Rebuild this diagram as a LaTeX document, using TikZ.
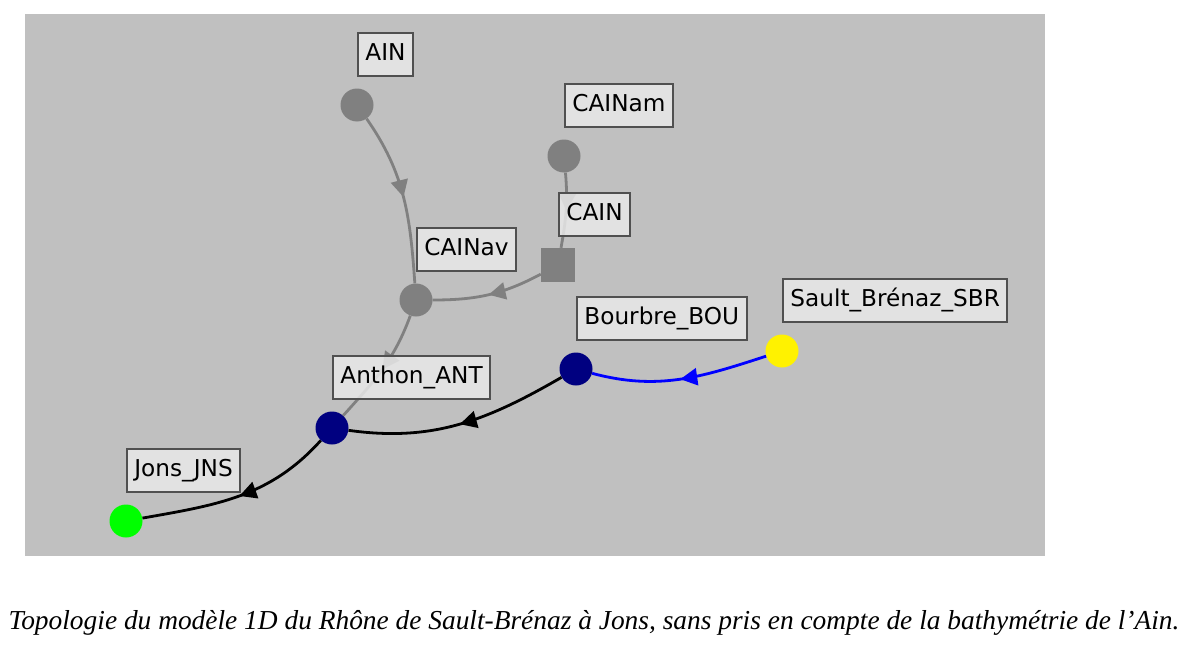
\documentclass[tikz,border=0pt]{standalone}
\usepackage{fontspec}
\setmainfont{Liberation Serif}
\newfontfamily\lblfont{DejaVu Sans}
\usetikzlibrary{positioning,decorations.markings,arrows.meta}

\definecolor{bggray}{RGB}{192,192,192}
\definecolor{nodegray}{RGB}{128,128,128}
\definecolor{navy}{RGB}{0,0,128}
\definecolor{boxfill}{RGB}{232,232,232}
\definecolor{boxline}{RGB}{80,80,80}

\tikzset{
	pt/.style={circle, inner sep=0pt, minimum size=33pt},
	sq/.style={rectangle, inner sep=0pt, minimum size=34pt, fill=nodegray},
	lbl/.style={draw=boxline, line width=1.8pt, fill=boxfill, fill opacity=0.85, text opacity=1,
		font=\lblfont\fontsize{23.2}{27}\selectfont, inner xsep=7.5pt, inner ysep=0pt,
		text height=16pt, text depth=5pt, minimum height=43pt},
	midarrow/.style={postaction={decorate}, decoration={markings,
		mark=at position #1 with {\arrow{Triangle[length=17pt,width=17pt]}}}},
	midarrow/.default=0.5,
	river/.style={line width=2.8pt, midarrow}
}

\begin{document}
\begin{tikzpicture}[x=1pt, y=1pt]
		\useasboundingbox (0,0) rectangle (1192,-645);
		\fill[bggray] (25,-14) rectangle (1045,-556);

		\node[pt, fill=nodegray] (ain) at (357, -105)		{};
		\node[pt, fill=nodegray] (cainam) at (564, -156)		{};
		\node[sq] (cain) at (558, -265)		{};
		\node[pt, fill=nodegray] (cainav) at (416, -300)		{};
		\node[pt, fill=navy] (ant) at (332, -428)		{};
		\node[pt, fill=green] (jns) at (126, -521)		{};
		\node[pt, fill=navy] (bou) at (576, -369)		{};
		\node[pt, fill=yellow] (sbr) at (782, -351)		{};

		\draw[river, nodegray] (ain) to[out=-55, in=94] (cainav);
		\draw[river, nodegray] (cainam) to[out=-85, in=80] (cain);
		\draw[river, nodegray] (cain) to[out=-152, in=0] (cainav);
		\draw[river, nodegray] (cainav) to[out=-110, in=48] (ant);
		\draw[river, black] (bou) to[out=-150, in=-8] (ant);
		\draw[river=0.48, black] (ant) to[out=-132, in=10] (jns);
		\draw[river, blue] (sbr) to[out=-162, in=-15] (bou);

		\node[lbl, above right=28pt and 0pt of ain.center] (ainlbl)		{AIN};
		\node[lbl, above right=28pt and 0pt of cainam.center] (cainamlbl)		{CAINam};
		\node[lbl, above right=28pt and 0pt of cain.center] (cainlbl)		{CAIN};
		\node[lbl, above right=28pt and 0pt of cainav.center] (cainavlbl)		{CAINav};
		\node[lbl, above right=28pt and 0pt of ant.center] (antlbl)		{Anthon\_ANT};
		\node[lbl, above right=28pt and 0pt of jns.center] (jnslbl)		{Jons\_JNS};
		\node[lbl, above right=28pt and 0pt of bou.center] (boulbl)		{Bourbre\_BOU};
		\node[lbl, above right=28pt and 0pt of sbr.center] (sbrlbl)		{Sault\_Brénaz\_SBR};

		\node[font=\fontsize{27.4}{31}\selectfont\itshape] (caption) at (594, -623)
			{Topologie du modèle 1D du Rhône de Sault-Brénaz à Jons, sans pris en compte de la bathymétrie de l’Ain.};
	\end{tikzpicture}
\end{document}
